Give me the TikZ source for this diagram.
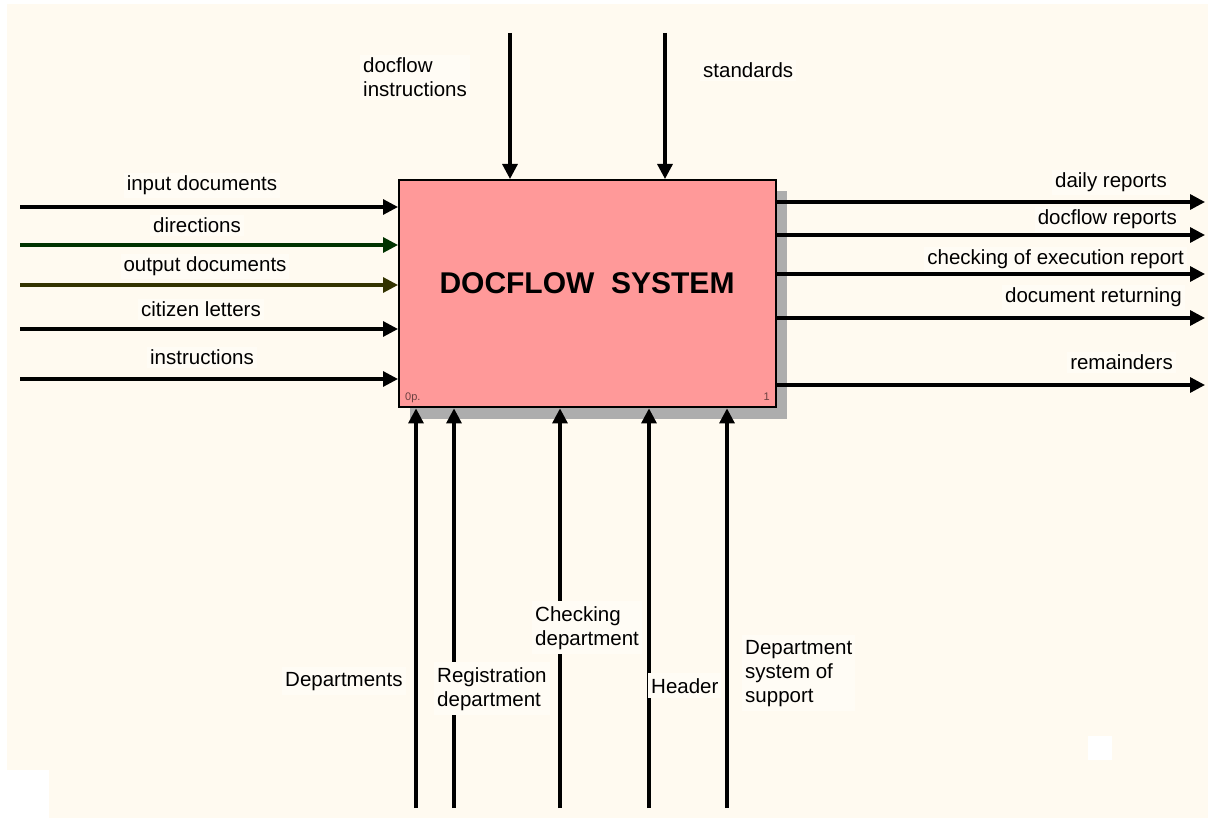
\documentclass[tikz,border=0pt]{standalone}
\usepackage{fontspec}
\setmainfont{Liberation Sans}
\usetikzlibrary{arrows.meta}
\definecolor{cream}{HTML}{FFFAF0}
\definecolor{labelbg}{HTML}{FFFCF5}
\definecolor{boxfill}{HTML}{FF9999}
\definecolor{shadowc}{HTML}{ADADAD}
\definecolor{dgreen}{HTML}{003300}
\definecolor{dolive}{HTML}{333300}
\definecolor{smallc}{HTML}{6B4040}
\begin{document}
\begin{tikzpicture}[x=1pt,y=-1pt,
  flow/.style={line width=3.2pt,-{Triangle[length=15pt,width=15pt]}},
  lbl/.style={fill=labelbg,inner xsep=3pt,inner ysep=3pt,font=\fontsize{20.5}{24}\selectfont,align=left},
  mlbl/.style={lbl,inner ysep=5pt},
  tiny/.style={inner sep=0pt,text=smallc,font=\fontsize{11}{13}\selectfont}]
\useasboundingbox (0,0) rectangle (1208,818);
\fill[white] (0,0) rectangle (1208,818);
\fill[cream] (7,4) rectangle (1208,818);
\fill[white] (0,770) rectangle (49,818);
\fill[white] (1088,736) rectangle (1112,760);
% shadow and box
\fill[shadowc] (410,191) rectangle (787,419);
\node[draw,line width=2.4pt,fill=boxfill,minimum width=377pt,minimum height=227pt,inner sep=0pt,anchor=north west] (sys) at (398,179) {};
\node[font=\bfseries\fontsize{30}{36}\selectfont] (title) at (587,283) {DOCFLOW\ \ SYSTEM};
\node[tiny,anchor=base west] (op) at (405,400) {0p.};
\node[tiny,anchor=base east] (num) at (770,400) {1};
% inputs
\coordinate (i1) at (20,207);
\coordinate (i2) at (20,245);
\coordinate (i3) at (20,285);
\coordinate (i4) at (20,329);
\coordinate (i5) at (20,379);
\draw[flow] (i1) -- (i1 -| sys.west);
\draw[flow,dgreen] (i2) -- (i2 -| sys.west);
\draw[flow,dolive] (i3) -- (i3 -| sys.west);
\draw[flow] (i4) -- (i4 -| sys.west);
\draw[flow] (i5) -- (i5 -| sys.west);
% controls
\coordinate (c1) at (510,33);
\coordinate (c2) at (665,33);
\draw[flow] (c1) -- (c1 |- sys.north);
\draw[flow] (c2) -- (c2 |- sys.north);
% outputs
\coordinate (o1) at (1205,202);
\coordinate (o2) at (1205,235);
\coordinate (o3) at (1205,274);
\coordinate (o4) at (1205,318);
\coordinate (o5) at (1205,385);
\draw[flow] (o1 -| sys.east) -- (o1);
\draw[flow] (o2 -| sys.east) -- (o2);
\draw[flow] (o3 -| sys.east) -- (o3);
\draw[flow] (o4 -| sys.east) -- (o4);
\draw[flow] (o5 -| sys.east) -- (o5);
% mechanisms
\coordinate (m1) at (416,808);
\coordinate (m2) at (454,808);
\coordinate (m3) at (560,808);
\coordinate (m4) at (649,808);
\coordinate (m5) at (727,808);
\draw[flow] (m1) -- (m1 |- sys.south);
\draw[flow] (m2) -- (m2 |- sys.south);
\draw[flow] (m3) -- (m3 |- sys.south);
\draw[flow] (m4) -- (m4 |- sys.south);
\draw[flow] (m5) -- (m5 |- sys.south);
% labels
\node[lbl,anchor=base] (li1) at (202,191) {input documents};
\node[lbl,anchor=base] (li2) at (197,233) {directions};
\node[lbl,anchor=base] (li3) at (205,272) {output documents};
\node[lbl,anchor=base] (li4) at (201,317) {citizen letters};
\node[lbl,anchor=base] (li5) at (202,365) {instructions};
\node[lbl,anchor=base west] (lc1) at (360,97) {docflow\\instructions};
\node[lbl,anchor=base west] (lc2) at (700,78) {standards};
\node[lbl,anchor=base east] (lo1) at (1170,188) {daily reports};
\node[lbl,anchor=base east] (lo2) at (1180,225) {docflow reports};
\node[lbl,anchor=base east] (lo3) at (1187,265) {checking of execution report};
\node[lbl,anchor=base east] (lo4) at (1185,303) {document returning};
\node[lbl,anchor=base east] (lo5) at (1176,370) {remainders};
\node[mlbl,anchor=base west] (lm1) at (282,686) {Departments};
\node[mlbl,anchor=base west] (lm2) at (434,706) {Registration\\department};
\node[mlbl,anchor=base west] (lm3) at (532,645) {Checking\\department};
\node[mlbl,anchor=base west] (lm4) at (648,693) {Header};
\node[mlbl,anchor=base west] (lm5) at (742,702) {Department\\system of\\support};
\end{tikzpicture}
\end{document}
